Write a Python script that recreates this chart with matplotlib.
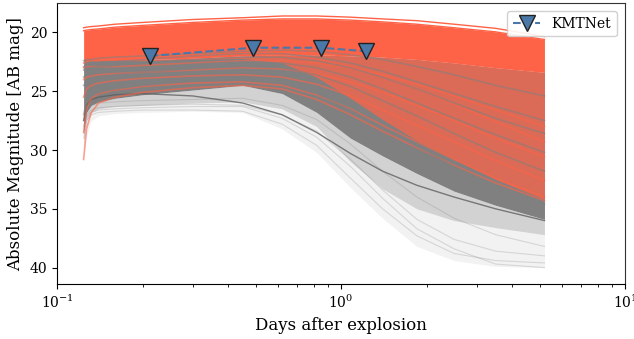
import numpy as np
import matplotlib
matplotlib.use("Agg")
import matplotlib.pyplot as plt

plt.rcParams["font.family"] = "DejaVu Serif"

# --------------------------------
# Data
# --------------------------------
t_days = [0.124, 0.127, 0.132, 0.14, 0.16, 0.2, 0.3, 0.45, 0.62,
          0.82, 1.08, 1.4, 1.85, 2.5, 3.5, 5.2]

# envelopes of the model light curves (AB mag)
red_solid_bottom = [22.3, 22.3, 22.3, 22.3, 22.3, 22.3, 22.2, 22.0, 21.9,
                    21.9, 22.0, 22.1, 22.3, 22.6, 23.0, 23.4]
red_mix_bottom = [22.4, 22.4, 22.4, 22.4, 22.4, 22.4, 22.3, 22.2, 22.6,
                  23.8, 25.6, 27.4, 29.2, 30.8, 32.5, 34.2]
gray_core_bottom = [28.5, 26.8, 26.2, 25.9, 25.6, 25.3, 24.9, 24.5, 25.2,
                    26.8, 29.0, 30.5, 32.0, 33.5, 34.7, 35.9]
gray_mid_bottom = [29.5, 27.5, 26.8, 26.5, 26.3, 26.2, 26.0, 25.9, 26.5,
                   28.0, 31.0, 33.3, 35.0, 36.0, 36.6, 37.2]
faint_bottom = [30.5, 28.8, 27.5, 27.1, 26.9, 26.8, 26.7, 26.8, 28.2,
                30.2, 33.2, 35.8, 38.2, 39.4, 39.9, 40.0]

# individual curves that stand out
red_top_lines = [
    [19.6, 19.55, 19.5, 19.45, 19.3, 19.15, 18.9, 18.75, 18.6, 18.6, 18.7, 18.85, 19.0, 19.3, 19.65, 20.35],
    [19.85, 19.8, 19.75, 19.7, 19.55, 19.4, 19.15, 18.95, 18.85, 18.85, 18.95, 19.1, 19.3, 19.6, 19.95, 20.6],
]
red_streaks = [
    [22.6, 22.5, 22.4, 22.4, 22.3, 22.2, 22.0, 21.9, 22.0, 22.3, 22.9, 23.7, 24.8, 26.1, 27.6, 29.3],
    [23.0, 22.9, 22.9, 22.9, 22.9, 22.8, 22.6, 22.4, 22.4, 22.6, 23.0, 23.6, 24.4, 25.4, 26.6, 28.0],
    [24.0, 23.8, 23.7, 23.6, 23.5, 23.4, 23.2, 23.0, 23.1, 23.5, 24.2, 25.1, 26.2, 27.5, 29.0, 30.6],
    [25.5, 24.8, 24.5, 24.3, 24.1, 23.9, 23.7, 23.6, 23.8, 24.4, 25.4, 26.6, 27.9, 29.3, 30.9, 32.6],
    [28.5, 26.5, 25.6, 25.2, 24.9, 24.6, 24.3, 24.2, 24.5, 25.3, 26.5, 27.9, 29.3, 30.8, 32.4, 34.0],
    [30.8, 28.2, 26.8, 26.0, 25.5, 25.1, 24.7, 24.5, 24.8, 25.7, 27.0, 28.4, 29.8, 31.3, 32.8, 34.3],
]
gray_streaks = [
    [22.4, 22.3, 22.3, 22.2, 22.1, 22.0, 21.8, 21.6, 21.5, 21.6, 21.9, 22.3, 22.9, 23.6, 24.5, 25.4],
    [23.2, 23.1, 23.0, 22.9, 22.8, 22.6, 22.3, 22.1, 22.1, 22.4, 23.0, 23.8, 24.8, 26.0, 27.3, 28.6],
    [24.5, 24.2, 24.0, 23.8, 23.6, 23.4, 23.1, 22.9, 23.0, 23.6, 24.6, 25.8, 27.1, 28.6, 30.2, 31.8],
    [27.0, 25.9, 25.4, 25.1, 24.8, 24.5, 24.1, 23.9, 24.3, 25.2, 26.6, 28.1, 29.7, 31.4, 33.0, 34.6],
    [22.9, 22.8, 22.7, 22.6, 22.5, 22.3, 22.0, 21.8, 21.8, 22.1, 22.6, 23.3, 24.2, 25.2, 26.3, 27.5],
    [23.8, 23.6, 23.5, 23.4, 23.2, 23.0, 22.7, 22.5, 22.6, 23.0, 23.8, 24.8, 26.0, 27.3, 28.7, 30.2],
]
dark_line = [27.5, 26.2, 25.7, 25.5, 25.3, 25.2, 25.4, 26.0, 27.0, 28.5,
             30.3, 31.8, 33.0, 34.0, 35.0, 36.0]
faint_lines = [
    [29.0, 27.5, 27.0, 26.8, 26.7, 26.6, 26.6, 26.7, 27.8, 29.6, 32.4, 35.0, 37.3, 38.8, 39.4, 39.6],
    [28.0, 27.0, 26.6, 26.4, 26.3, 26.2, 26.1, 26.2, 27.0, 28.4, 30.8, 33.4, 35.9, 37.6, 38.6, 39.0],
    [27.5, 26.6, 26.2, 26.0, 25.9, 25.8, 25.7, 25.6, 26.2, 27.4, 29.5, 31.8, 34.0, 35.8, 37.2, 38.2],
    [28.5, 27.2, 26.8, 26.6, 26.5, 26.4, 26.3, 26.3, 27.3, 28.9, 31.4, 34.1, 36.7, 38.4, 39.7, 40.0],
]

# KMTNet points
kmt_days = [0.213, 0.49, 0.85, 1.22]
kmt_mag = [22.0, 21.3, 21.3, 21.6]

red = "#ff6347"
gray = "#808080"

# --------------------------------
# Figure
# --------------------------------
fig = plt.figure(figsize=(6.34, 3.39), dpi=100)
ax = fig.add_axes([0.09, 0.162, 0.896, 0.829])

# faint and medium gray parts
ax.fill_between(t_days, gray_mid_bottom, faint_bottom, color=gray, alpha=0.1, lw=0)
ax.fill_between(t_days, gray_core_bottom, gray_mid_bottom, color=gray, alpha=0.35, lw=0)
ax.fill_between(t_days, red_solid_bottom, gray_core_bottom, color=gray, lw=0)
for m in faint_lines:
    ax.plot(t_days, m, color=gray, alpha=0.25, lw=0.8)
ax.plot(t_days, dark_line, color="#606060", alpha=0.8, lw=1.0)

# red parts
ax.fill_between(t_days, red_solid_bottom, red_mix_bottom, color=red, alpha=0.72, lw=0)
ax.fill_between(t_days, red_top_lines[1], red_solid_bottom, color=red, lw=0)
for m in red_top_lines:
    ax.plot(t_days, m, color=red, lw=1.0)
for m in red_streaks:
    ax.plot(t_days, m, color=red, alpha=0.6, lw=1.2)
for m in gray_streaks:
    ax.plot(t_days, m, color=gray, alpha=0.55, lw=1.2)

# KMTNet
ax.plot(kmt_days, kmt_mag, linestyle="--", color="#4a78a8", lw=1.5,
        marker="v", markersize=11, markerfacecolor="#4a78a8",
        markeredgecolor="#222222", markeredgewidth=1.0, label="KMTNet")

ax.set_xscale("log")
ax.set_xlim(0.1, 10)
ax.set_ylim(41.4, 17.5)
ax.set_yticks([20, 25, 30, 35, 40])
ax.set_xlabel("Days after explosion", fontsize=12)
ax.set_ylabel("Absolute Magnitude [AB mag]", fontsize=12)
ax.tick_params(labelsize=10)
for s in ["top", "right"]:
    ax.spines[s].set_color("#333333")

ax.legend(loc="upper right", fontsize=10, framealpha=0.9, borderaxespad=0.6)

plt.savefig("out.png", dpi=100)
